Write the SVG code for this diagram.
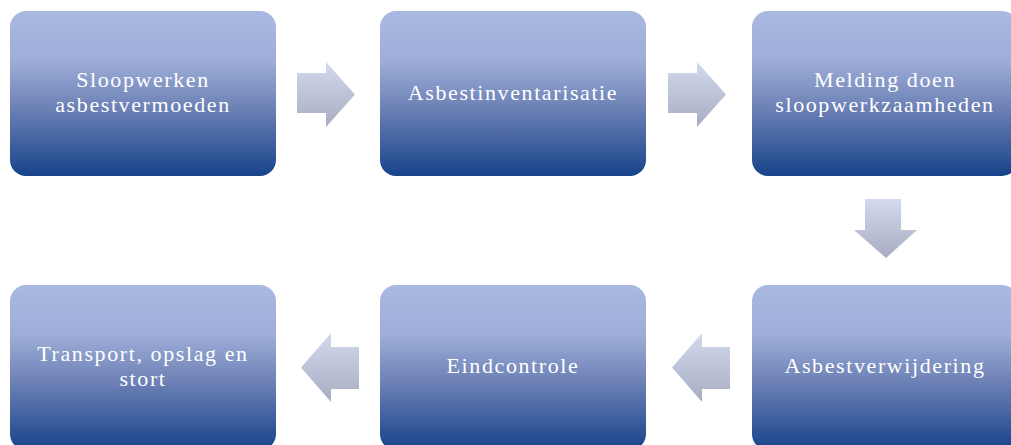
<svg xmlns="http://www.w3.org/2000/svg" width="1011" height="445" viewBox="0 0 1011 445">
<defs>
<linearGradient id="boxg" x1="0" y1="0" x2="0" y2="1">
<stop offset="0" stop-color="#aab9e2"/>
<stop offset="0.3" stop-color="#9eaed8"/>
<stop offset="0.6" stop-color="#6a7fb4"/>
<stop offset="1" stop-color="#17438a"/>
</linearGradient>
<linearGradient id="arrg" x1="0" y1="0" x2="0" y2="1">
<stop offset="0" stop-color="#d4daed"/>
<stop offset="1" stop-color="#a7acc2"/>
</linearGradient>
<style>
.box{fill:url(#boxg);}
.arr{fill:url(#arrg);}
.t{font-family:"Liberation Serif","DejaVu Serif",serif;font-size:22px;letter-spacing:1.6px;fill:#ffffff;text-anchor:middle;}
</style>
</defs>
<g id="n1"><rect class="box" x="10" y="11" width="266" height="165" rx="16"/>
<text class="t" x="143" y="87">Sloopwerken</text><text class="t" x="143" y="112">asbestvermoeden</text></g>
<g id="n2"><rect class="box" x="380" y="11" width="266" height="165" rx="16"/>
<text class="t" x="513" y="100">Asbestinventarisatie</text></g>
<g id="n3"><rect class="box" x="752" y="11" width="266" height="165" rx="16"/>
<text class="t" x="885" y="87">Melding doen</text><text class="t" x="885" y="112">sloopwerkzaamheden</text></g>
<g id="n4"><rect class="box" x="752" y="285" width="266" height="165" rx="16"/>
<text class="t" x="885" y="373">Asbestverwijdering</text></g>
<g id="n5"><rect class="box" x="380" y="285" width="266" height="165" rx="16"/>
<text class="t" x="513" y="373">Eindcontrole</text></g>
<g id="n6"><rect class="box" x="10" y="285" width="266" height="165" rx="16"/>
<text class="t" x="143" y="361">Transport, opslag en</text><text class="t" x="143" y="386">stort</text></g>
<g id="connectors">
<path class="arr" d="M297,73 H326 V62 L355,94.5 L326,127 V113 H297 Z"/>
<path class="arr" d="M668,73 H697 V62 L726,94.5 L697,127 V113 H668 Z"/>
<path class="arr" d="M865,199 H901 V230 H917 L886,258 L854,230 H865 Z"/>
<path class="arr" d="M730,347 H702 V333 L672,367.5 L702,402 V389 H730 Z"/>
<path class="arr" d="M359,347 H331 V333 L301,367.5 L331,402 V389 H359 Z"/>
</g>
</svg>
